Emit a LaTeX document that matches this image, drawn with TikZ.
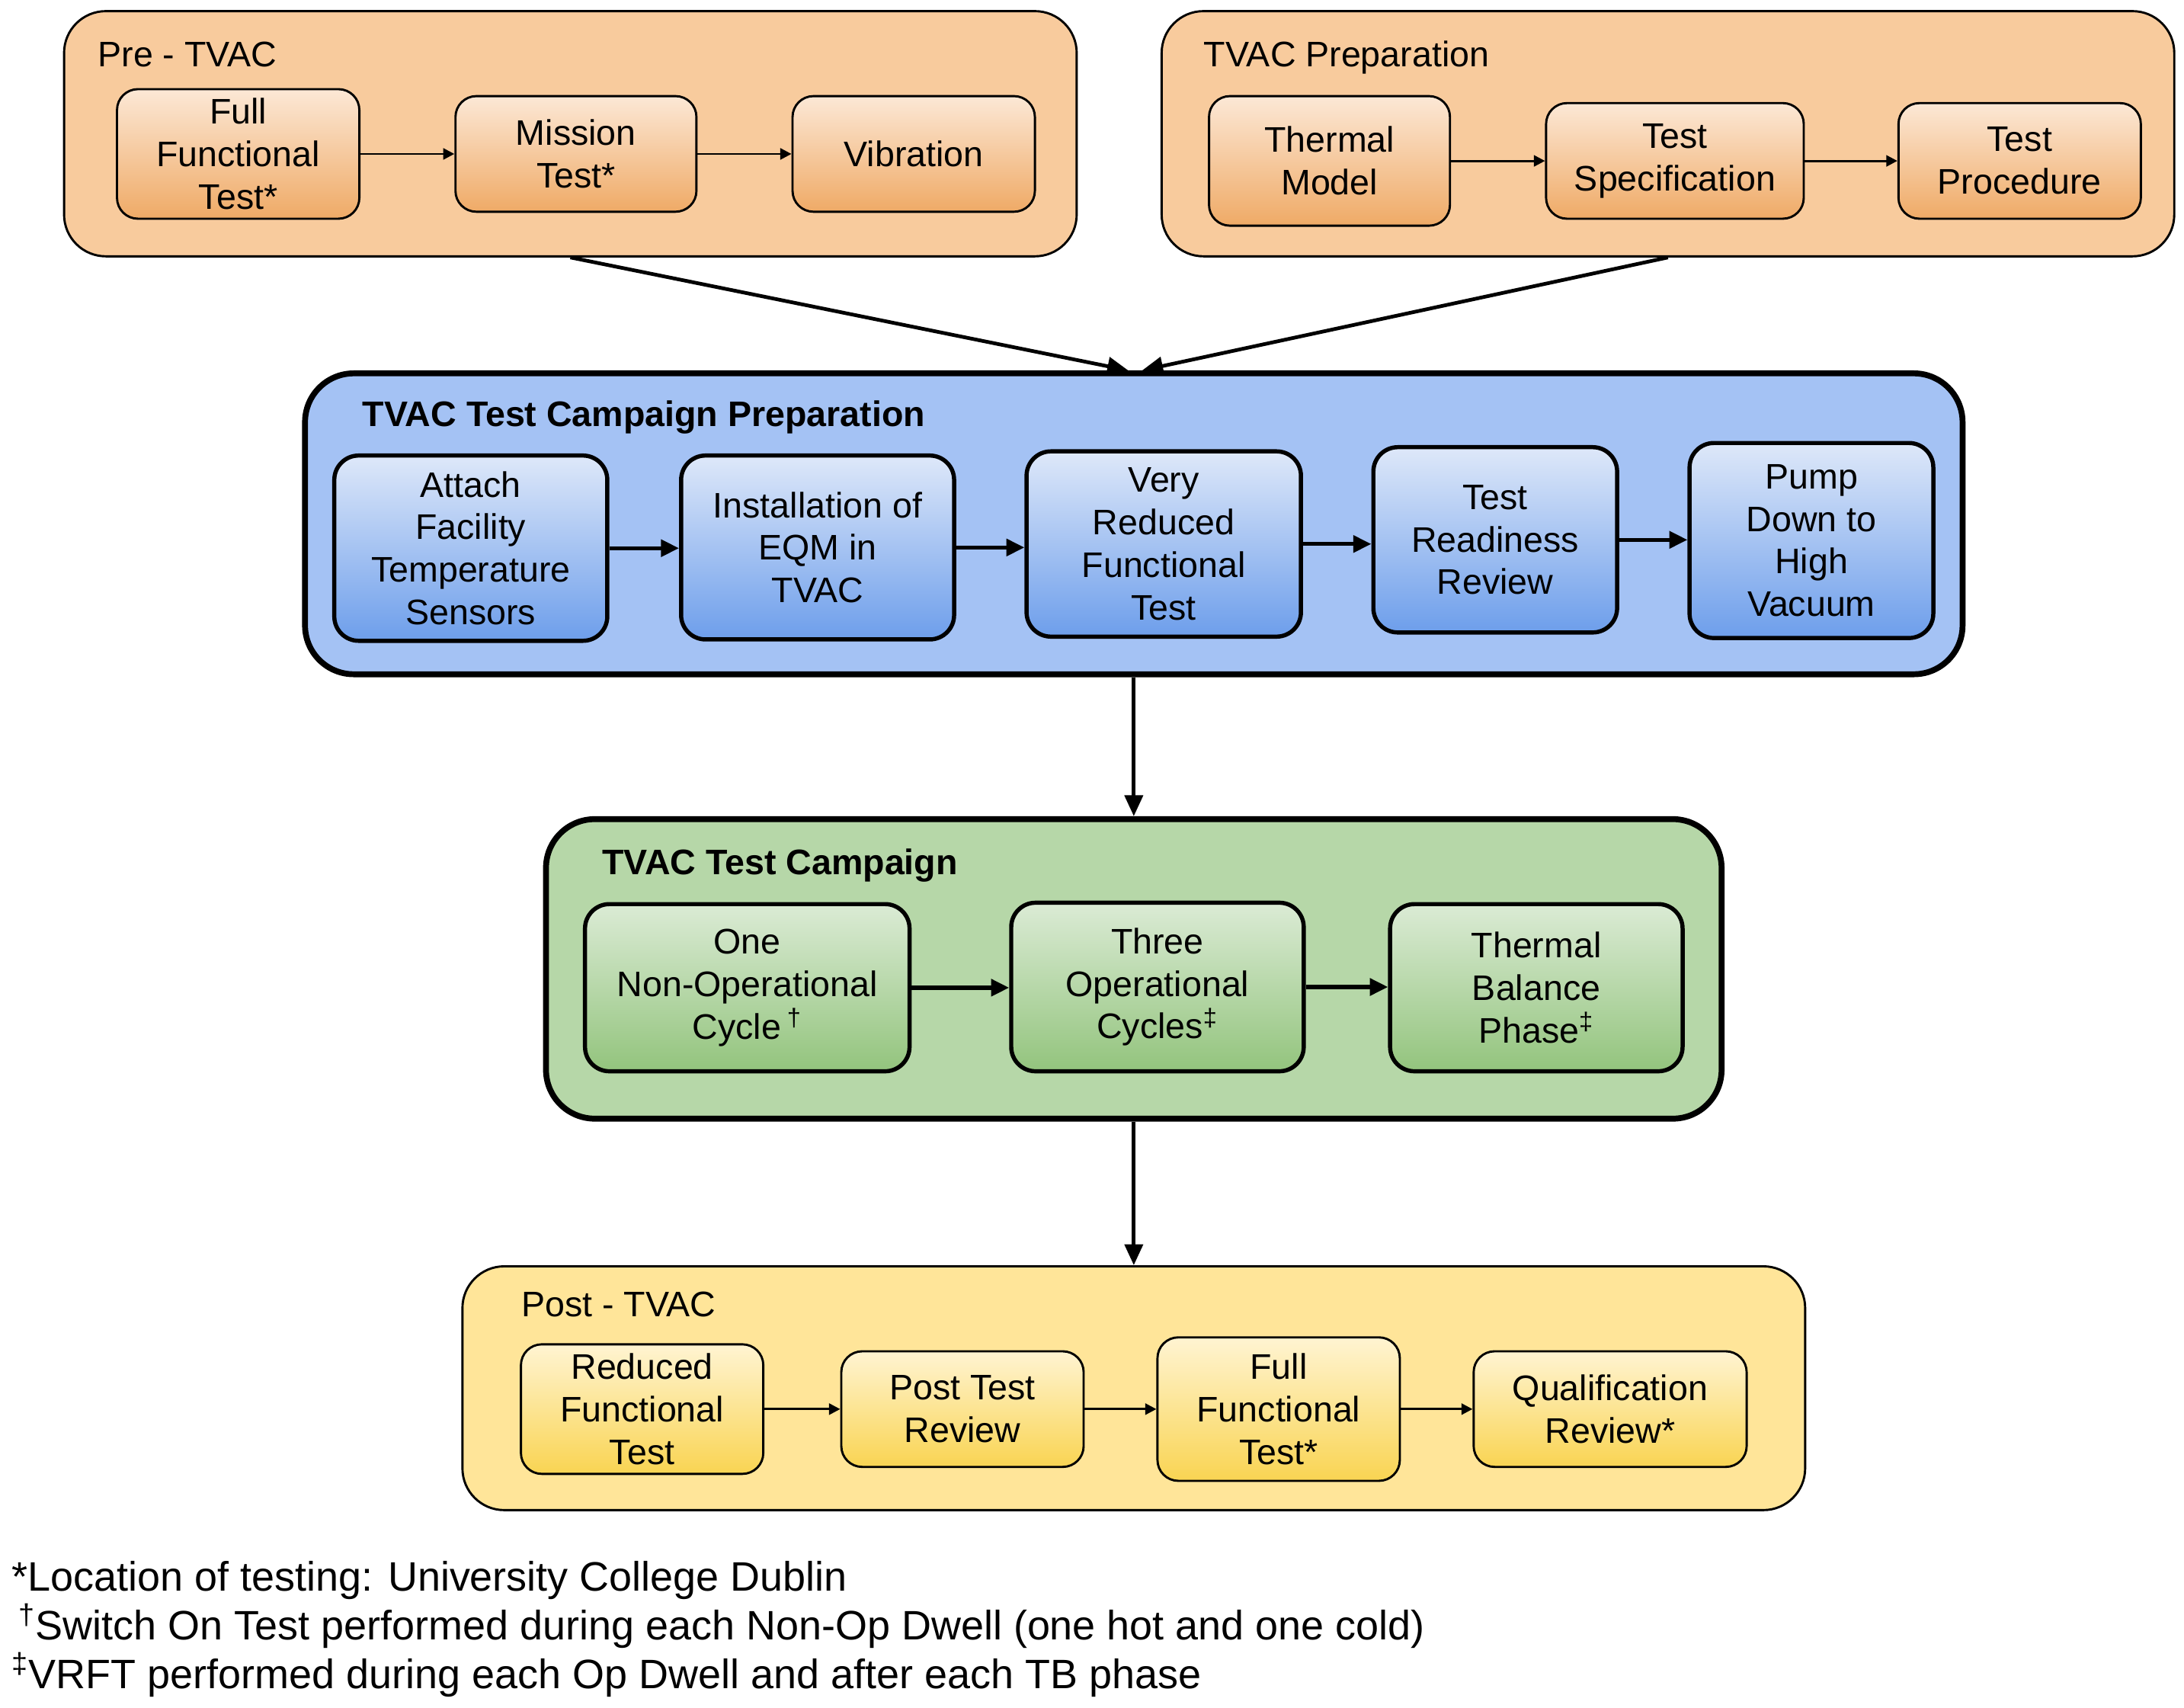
\documentclass[tikz,border=0pt]{standalone}
\usepackage{fontspec}
\setmainfont{Liberation Sans}
\usetikzlibrary{arrows.meta}

\definecolor{preout}{RGB}{248,203,157}
\definecolor{pretop}{RGB}{252,232,214}
\definecolor{prebot}{RGB}{239,170,102}
\definecolor{bluout}{RGB}{164,194,244}
\definecolor{blutop}{RGB}{222,232,249}
\definecolor{blubot}{RGB}{109,158,235}
\definecolor{grnout}{RGB}{182,215,168}
\definecolor{grntop}{RGB}{219,235,213}
\definecolor{grnbot}{RGB}{147,196,125}
\definecolor{ylwout}{RGB}{255,229,153}
\definecolor{ylwtop}{RGB}{255,244,210}
\definecolor{ylwbot}{RGB}{249,212,82}

\begin{document}
\begin{tikzpicture}
[x=0.02cm,y=-0.02cm,
 every node/.style={font=\fontsize{14.5}{17.4}\selectfont,align=center,inner sep=0pt},
 sz/.style 2 args={minimum width=#1*0.02cm,minimum height=#2*0.02cm},
 thin group/.style={draw,rounded corners=0.6cm,line width=0.9pt},
 thick group/.style={draw,rounded corners=0.7cm,line width=2.4pt},
 orange box/.style={draw,rounded corners=0.3cm,line width=0.9pt,top color=pretop,bottom color=prebot},
 yellow box/.style={draw,rounded corners=0.3cm,line width=0.9pt,top color=ylwtop,bottom color=ylwbot},
 blue box/.style={draw,rounded corners=0.35cm,line width=1.7pt,top color=blutop,bottom color=blubot},
 green box/.style={draw,rounded corners=0.35cm,line width=1.7pt,top color=grntop,bottom color=grnbot},
 title/.style={anchor=base west},
 note/.style={anchor=base west,font=\fontsize{16.8}{20}\selectfont},
 small arrow/.style={line width=0.9pt,-{Triangle[length=0.16cm,width=0.16cm]}},
 big arrow/.style={line width=1.7pt,-{Triangle[length=0.26cm,width=0.24cm]}},
 link/.style={line width=1.5pt,-{Triangle[length=0.3cm,width=0.26cm]}}]

  \useasboundingbox (0,0) rectangle (1568,1226);

  % groups
  \node[thin group,fill=preout,sz={727}{176}] (pre) at (409.5,96) {};
  \node[thin group,fill=preout,sz={727}{176}] (prep) at (1197.5,96) {};
  \node[thick group,fill=bluout,sz={1190}{216}] (campprep) at (814,376) {};
  \node[thick group,fill=grnout,sz={844}{215}] (camp) at (814,695.5) {};
  \node[thin group,fill=ylwout,sz={964}{175}] (post) at (814,996.5) {};

  \node[title] (pret) at (70,48) {Pre - TVAC};
  \node[title] (prept) at (864,48) {TVAC Preparation};
  \node[title,font=\fontsize{14.5}{17.4}\selectfont\bfseries] (campprept) at (260,306) {TVAC Test Campaign Preparation};
  \node[title,font=\fontsize{14.5}{17.4}\selectfont\bfseries] (campt) at (432,628) {TVAC Test Campaign};
  \node[title] (postt) at (374,945) {Post - TVAC};

  % Pre - TVAC
  \node[orange box,sz={174}{93}] (fft1) at (171,110.5) {Full\\Functional\\Test*};
  \node[orange box,sz={173}{83}] (mt) at (413.5,110.5) {Mission\\Test*};
  \node[orange box,sz={174}{83}] (vib) at (656,110.5) {Vibration};

  % TVAC Preparation
  \node[orange box,sz={173}{93}] (tm) at (954.5,115.5) {Thermal\\Model};
  \node[orange box,sz={185}{83}] (ts) at (1202.5,115.5) {Test\\Specification};
  \node[orange box,sz={174}{83}] (tp) at (1450,115.5) {Test\\Procedure};

  % TVAC Test Campaign Preparation
  \node[blue box,sz={196}{133}] (ats) at (338,393.5) {Attach\\Facility\\Temperature\\Sensors};
  \node[blue box,sz={196}{132}] (inst) at (587,393) {Installation of\\EQM in\\TVAC};
  \node[blue box,sz={197}{133}] (vrft) at (835.5,390.5) {Very\\Reduced\\Functional\\Test};
  \node[blue box,sz={175}{133}] (trr) at (1073.5,387.5) {Test\\Readiness\\Review};
  \node[blue box,sz={175}{140}] (pump) at (1300.5,388) {Pump\\Down to\\High\\Vacuum};

  % TVAC Test Campaign
  \node[green box,sz={233}{120}] (nonop) at (536.5,709) {One\\Non-Operational\\Cycle\,\textsuperscript{†}};
  \node[green box,sz={210}{121}] (op) at (831,708.5) {Three\\Operational\\Cycles\textsuperscript{‡}};
  \node[green box,sz={210}{120}] (tb) at (1103,709) {Thermal\\Balance\\Phase\textsuperscript{‡}};

  % Post - TVAC
  \node[yellow box,sz={174}{93}] (rft) at (461,1011.5) {Reduced\\Functional\\Test};
  \node[yellow box,sz={174}{83}] (ptr) at (691,1011.5) {Post Test\\Review};
  \node[yellow box,sz={174}{103}] (fft2) at (918,1011.5) {Full\\Functional\\Test*};
  \node[yellow box,sz={196}{83}] (qr) at (1156,1011.5) {Qualification\\Review*};

  \foreach \from/\to in {fft1/mt, mt/vib, tm/ts, ts/tp, rft/ptr, ptr/fft2, fft2/qr}
    \draw[small arrow] (\from) -- (\to);
  \foreach \from/\to in {ats/inst, inst/vrft, vrft/trr, trr/pump, nonop/op, op/tb}
    \draw[big arrow] (\from.east) -- (\from.east -| \to.west);

  \draw[link] (pre.south) -- ([xshift=-0.08cm]campprep.north);
  \draw[link] (prep.south) -- ([xshift=0.12cm]campprep.north);
  \draw[link] (campprep) -- (camp);
  \draw[link] (camp) -- (post);

  % footnotes
  \node[note] (n1) at (8,1142) {*Location of testing: University College Dublin};
  \node[note] (n2) at (8,1177) {\,\textsuperscript{†}Switch On Test performed during each Non-Op Dwell (one hot and one cold)};
  \node[note] (n3) at (8,1212) {\textsuperscript{‡}VRFT performed during each Op Dwell and after each TB phase};

\end{tikzpicture}
\end{document}
